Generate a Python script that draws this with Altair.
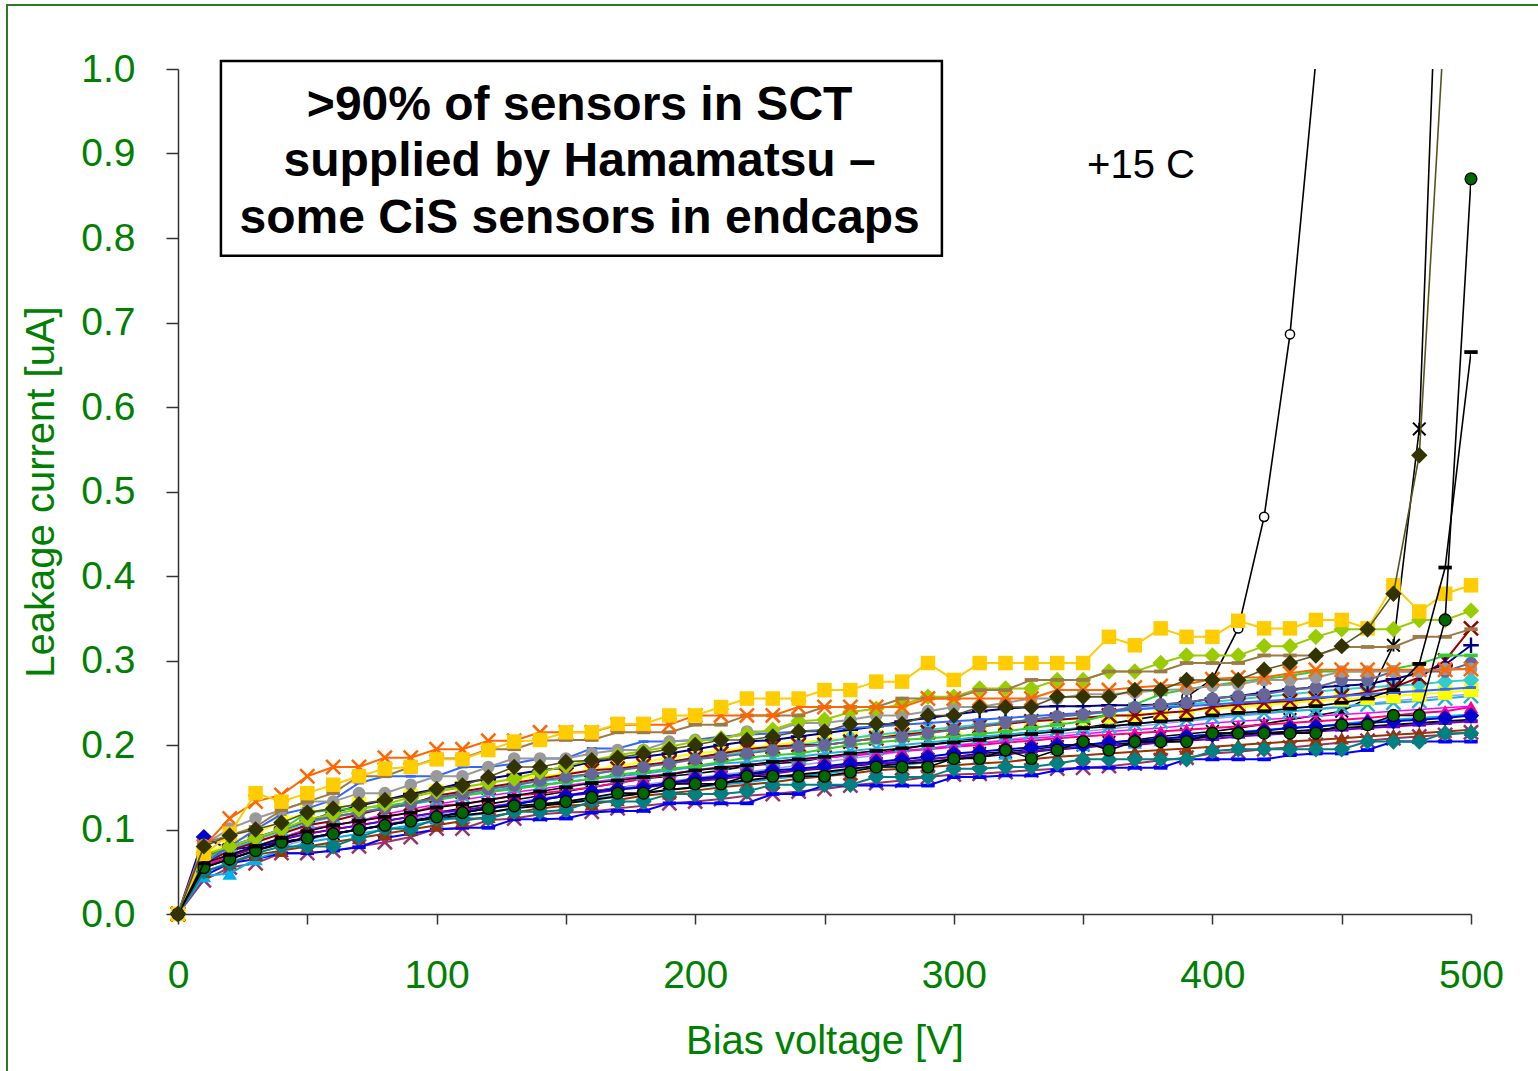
import altair as alt
import pandas as pd

# ---------------- data ----------------
VOLTAGE = [0, 10, 20, 30, 40, 50, 60, 70, 80, 90, 100,
           110, 120, 130, 140, 150, 160, 170, 180, 190, 200,
           210, 220, 230, 240, 250, 260, 270, 280, 290, 300,
           310, 320, 330, 340, 350, 360, 370, 380, 390, 400,
           410, 420, 430, 440, 450, 460, 470, 480, 490, 500]

MAUVE_X = [0, 0.040, 0.055, 0.060, 0.072, 0.072, 0.075, 0.080, 0.085, 0.091, 0.101,
           0.101, 0.111, 0.113, 0.118, 0.120, 0.121, 0.125, 0.128, 0.131, 0.133,
           0.136, 0.140, 0.142, 0.145, 0.148, 0.152, 0.155, 0.158, 0.162, 0.165,
           0.166, 0.168, 0.170, 0.172, 0.173, 0.175, 0.178, 0.182, 0.185, 0.190,
           0.192, 0.195, 0.197, 0.200, 0.203, 0.205, 0.208, 0.210, 0.212, 0.215]
BLUE_DASH = [0, 0.045, 0.060, 0.065, 0.072, 0.072, 0.075, 0.079, 0.090, 0.095, 0.100,
             0.102, 0.102, 0.112, 0.112, 0.113, 0.120, 0.122, 0.122, 0.131, 0.131,
             0.131, 0.131, 0.142, 0.142, 0.152, 0.152, 0.152, 0.152, 0.152, 0.162,
             0.162, 0.164, 0.164, 0.170, 0.173, 0.173, 0.173, 0.173, 0.183, 0.183,
             0.183, 0.183, 0.188, 0.190, 0.190, 0.194, 0.204, 0.204, 0.204, 0.204]
SKY_TRI = [0, 0.045, 0.048, 0.065, 0.075, 0.085, 0.090, 0.095, 0.100, 0.105, 0.110,
           0.115, 0.120, 0.125, 0.130, 0.133, 0.136, 0.140, 0.143, 0.147, 0.150,
           0.153, 0.156, 0.160, 0.163, 0.166, 0.170, 0.173, 0.176, 0.180, 0.183,
           0.186, 0.190, 0.193, 0.196, 0.200, 0.200, 0.203, 0.206, 0.210, 0.213,
           0.215, 0.218, 0.220, 0.222, 0.225, 0.228, 0.230, 0.232, 0.234, 0.236]
BROWN_TRI = [0, 0.050, 0.060, 0.070, 0.075, 0.080, 0.085, 0.090, 0.095, 0.100, 0.105,
             0.110, 0.115, 0.120, 0.125, 0.128, 0.130, 0.135, 0.140, 0.143, 0.146,
             0.150, 0.153, 0.156, 0.160, 0.163, 0.166, 0.170, 0.172, 0.174, 0.176,
             0.178, 0.180, 0.183, 0.186, 0.188, 0.190, 0.192, 0.194, 0.196, 0.198,
             0.200, 0.202, 0.204, 0.206, 0.208, 0.210, 0.212, 0.214, 0.216, 0.218]
LAVENDER = [0, 0.050, 0.062, 0.072, 0.080, 0.088, 0.094, 0.100, 0.106, 0.112, 0.118,
            0.122, 0.127, 0.132, 0.137, 0.141, 0.145, 0.149, 0.153, 0.157, 0.161,
            0.165, 0.168, 0.172, 0.176, 0.180, 0.184, 0.188, 0.192, 0.196, 0.200,
            0.203, 0.206, 0.210, 0.213, 0.216, 0.219, 0.222, 0.225, 0.228, 0.231,
            0.234, 0.237, 0.240, 0.243, 0.246, 0.249, 0.252, 0.255, 0.258, 0.260]
BLACK_LINE = [0, 0.055, 0.065, 0.075, 0.083, 0.090, 0.095, 0.100, 0.105, 0.110, 0.113,
              0.117, 0.120, 0.125, 0.128, 0.131, 0.135, 0.139, 0.143, 0.147, 0.150,
              0.155, 0.158, 0.162, 0.165, 0.168, 0.172, 0.175, 0.178, 0.180, 0.183,
              0.186, 0.189, 0.192, 0.195, 0.197, 0.200, 0.202, 0.205, 0.207, 0.210,
              0.212, 0.214, 0.216, 0.218, 0.220, 0.222, 0.224, 0.226, 0.228, 0.230]
PURPLE_DASH = [0, 0.058, 0.068, 0.078, 0.088, 0.095, 0.100, 0.105, 0.110, 0.115, 0.120,
               0.123, 0.127, 0.130, 0.135, 0.140, 0.143, 0.147, 0.150, 0.153, 0.157,
               0.160, 0.163, 0.166, 0.170, 0.173, 0.176, 0.178, 0.180, 0.183, 0.186,
               0.188, 0.190, 0.193, 0.195, 0.198, 0.200, 0.200, 0.203, 0.205, 0.207,
               0.210, 0.212, 0.214, 0.216, 0.218, 0.220, 0.222, 0.224, 0.226, 0.228]
PINK_TRI = [0, 0.055, 0.070, 0.080, 0.090, 0.100, 0.105, 0.110, 0.115, 0.120, 0.128,
            0.130, 0.135, 0.140, 0.143, 0.146, 0.150, 0.155, 0.160, 0.165, 0.170,
            0.174, 0.176, 0.180, 0.183, 0.185, 0.188, 0.190, 0.193, 0.195, 0.198,
            0.200, 0.203, 0.205, 0.208, 0.210, 0.212, 0.214, 0.216, 0.218, 0.220,
            0.222, 0.224, 0.226, 0.228, 0.230, 0.232, 0.235, 0.238, 0.240, 0.245]
MAGENTA = [0, 0.058, 0.070, 0.080, 0.090, 0.100, 0.105, 0.110, 0.118, 0.124, 0.130,
           0.135, 0.140, 0.144, 0.148, 0.152, 0.156, 0.160, 0.163, 0.166, 0.170,
           0.173, 0.176, 0.179, 0.182, 0.185, 0.188, 0.190, 0.193, 0.196, 0.199,
           0.202, 0.205, 0.208, 0.210, 0.213, 0.216, 0.218, 0.220, 0.223, 0.226,
           0.228, 0.230, 0.232, 0.234, 0.236, 0.238, 0.240, 0.242, 0.244, 0.246]
BLUE_DIAMOND = [0, 0.091, 0.076, 0.080, 0.085, 0.090, 0.095, 0.100, 0.105, 0.110, 0.115,
                0.120, 0.125, 0.130, 0.135, 0.140, 0.145, 0.148, 0.150, 0.155, 0.160,
                0.163, 0.166, 0.170, 0.172, 0.175, 0.178, 0.180, 0.183, 0.186, 0.190,
                0.192, 0.195, 0.197, 0.200, 0.200, 0.203, 0.205, 0.207, 0.210, 0.212,
                0.215, 0.217, 0.220, 0.222, 0.224, 0.226, 0.228, 0.230, 0.232, 0.235]
CYAN_X = [0, 0.060, 0.075, 0.090, 0.100, 0.110, 0.115, 0.120, 0.125, 0.130, 0.135,
          0.140, 0.145, 0.150, 0.153, 0.156, 0.160, 0.163, 0.166, 0.170, 0.174,
          0.178, 0.180, 0.183, 0.186, 0.190, 0.193, 0.196, 0.200, 0.203, 0.206,
          0.210, 0.212, 0.215, 0.218, 0.220, 0.222, 0.225, 0.228, 0.230, 0.233,
          0.236, 0.238, 0.240, 0.242, 0.245, 0.248, 0.250, 0.252, 0.255, 0.258]
YELLOW_SQ = [0, 0.070, 0.085, 0.095, 0.110, 0.120, 0.125, 0.130, 0.135, 0.140, 0.145,
             0.150, 0.155, 0.160, 0.163, 0.166, 0.170, 0.175, 0.180, 0.185, 0.190,
             0.193, 0.196, 0.200, 0.203, 0.206, 0.208, 0.210, 0.213, 0.216, 0.220,
             0.222, 0.225, 0.228, 0.230, 0.232, 0.234, 0.236, 0.238, 0.240, 0.243,
             0.245, 0.247, 0.250, 0.252, 0.254, 0.256, 0.258, 0.260, 0.262, 0.265]
TURQ_DIAMOND = [0, 0.062, 0.075, 0.088, 0.098, 0.108, 0.115, 0.120, 0.126, 0.132, 0.138,
                0.143, 0.148, 0.153, 0.157, 0.160, 0.165, 0.170, 0.175, 0.180, 0.184,
                0.188, 0.192, 0.196, 0.200, 0.204, 0.208, 0.212, 0.215, 0.218, 0.221,
                0.224, 0.227, 0.230, 0.233, 0.236, 0.239, 0.242, 0.245, 0.248, 0.251,
                0.254, 0.257, 0.260, 0.263, 0.266, 0.268, 0.270, 0.272, 0.275, 0.277]
DARKRED_X = [0, 0.060, 0.075, 0.085, 0.095, 0.105, 0.110, 0.118, 0.125, 0.130, 0.140,
             0.145, 0.150, 0.155, 0.160, 0.165, 0.170, 0.172, 0.176, 0.180, 0.185,
             0.190, 0.195, 0.198, 0.200, 0.200, 0.204, 0.208, 0.212, 0.215, 0.218,
             0.222, 0.225, 0.228, 0.230, 0.232, 0.235, 0.235, 0.238, 0.240, 0.245,
             0.248, 0.250, 0.252, 0.255, 0.258, 0.262, 0.268, 0.280, 0.300, 0.338]
NAVY_PLUS = [0, 0.065, 0.080, 0.090, 0.100, 0.110, 0.120, 0.128, 0.135, 0.142, 0.148,
             0.155, 0.160, 0.165, 0.170, 0.173, 0.180, 0.184, 0.186, 0.190, 0.195,
             0.200, 0.204, 0.206, 0.210, 0.214, 0.218, 0.222, 0.228, 0.232, 0.236,
             0.240, 0.243, 0.245, 0.246, 0.246, 0.247, 0.247, 0.248, 0.250, 0.255,
             0.258, 0.262, 0.266, 0.268, 0.270, 0.272, 0.278, 0.285, 0.295, 0.318]
GREEN_DASH = [0, 0.065, 0.080, 0.090, 0.100, 0.120, 0.123, 0.125, 0.128, 0.132, 0.136,
              0.140, 0.144, 0.148, 0.152, 0.156, 0.160, 0.165, 0.168, 0.172, 0.175,
              0.180, 0.185, 0.188, 0.190, 0.195, 0.200, 0.203, 0.206, 0.208, 0.210,
              0.213, 0.216, 0.220, 0.224, 0.228, 0.236, 0.248, 0.260, 0.266, 0.270,
              0.275, 0.278, 0.282, 0.287, 0.287, 0.287, 0.290, 0.296, 0.306, 0.306]
LIGHTBLUE_DASH = [0, 0.060, 0.080, 0.100, 0.118, 0.125, 0.135, 0.155, 0.163, 0.163, 0.163,
                  0.174, 0.174, 0.178, 0.184, 0.184, 0.196, 0.196, 0.204, 0.204, 0.206,
                  0.210, 0.212, 0.214, 0.216, 0.218, 0.220, 0.222, 0.224, 0.226, 0.228,
                  0.230, 0.232, 0.234, 0.236, 0.238, 0.240, 0.242, 0.244, 0.246, 0.248,
                  0.250, 0.252, 0.254, 0.256, 0.258, 0.260, 0.262, 0.264, 0.266, 0.268]
SLATE_CIRCLE = [0, 0.068, 0.080, 0.090, 0.100, 0.110, 0.115, 0.120, 0.125, 0.130, 0.138,
                0.142, 0.148, 0.152, 0.158, 0.162, 0.166, 0.170, 0.174, 0.178, 0.183,
                0.186, 0.190, 0.194, 0.198, 0.200, 0.204, 0.208, 0.210, 0.214, 0.218,
                0.222, 0.226, 0.230, 0.234, 0.236, 0.240, 0.245, 0.248, 0.250, 0.255,
                0.258, 0.260, 0.265, 0.268, 0.277, 0.277, 0.287, 0.287, 0.287, 0.297]
GRAY_CIRCLE = [0, 0.082, 0.101, 0.113, 0.123, 0.133, 0.133, 0.143, 0.143, 0.153, 0.163,
               0.163, 0.174, 0.184, 0.184, 0.184, 0.190, 0.194, 0.194, 0.204, 0.206,
               0.206, 0.216, 0.216, 0.226, 0.226, 0.230, 0.235, 0.235, 0.240, 0.245,
               0.245, 0.250, 0.255, 0.255, 0.260, 0.260, 0.262, 0.265, 0.266, 0.270,
               0.272, 0.277, 0.277, 0.280, 0.287, 0.287, 0.287, 0.287, 0.290, 0.290]
LIME_DIAMOND = [0, 0.070, 0.080, 0.090, 0.100, 0.112, 0.118, 0.124, 0.130, 0.138, 0.145,
                0.150, 0.155, 0.160, 0.168, 0.175, 0.182, 0.188, 0.193, 0.198, 0.204,
                0.208, 0.213, 0.218, 0.228, 0.230, 0.239, 0.243, 0.248, 0.257, 0.257,
                0.267, 0.267, 0.267, 0.277, 0.277, 0.287, 0.287, 0.297, 0.306, 0.306,
                0.306, 0.317, 0.317, 0.328, 0.337, 0.337, 0.337, 0.348, 0.348, 0.359]
TAN_DASH = [0, 0.084, 0.093, 0.103, 0.123, 0.133, 0.143, 0.163, 0.163, 0.174, 0.184,
            0.184, 0.195, 0.195, 0.205, 0.206, 0.206, 0.215, 0.215, 0.215, 0.224,
            0.224, 0.235, 0.235, 0.235, 0.245, 0.245, 0.245, 0.255, 0.255, 0.255,
            0.265, 0.265, 0.277, 0.277, 0.277, 0.287, 0.287, 0.287, 0.297, 0.297,
            0.297, 0.306, 0.306, 0.306, 0.316, 0.316, 0.316, 0.328, 0.328, 0.337]
ORANGE_X = [0, 0.080, 0.113, 0.133, 0.141, 0.163, 0.174, 0.174, 0.185, 0.185, 0.195,
            0.195, 0.205, 0.205, 0.215, 0.215, 0.215, 0.224, 0.224, 0.224, 0.235,
            0.235, 0.235, 0.235, 0.245, 0.245, 0.245, 0.245, 0.245, 0.255, 0.255,
            0.255, 0.255, 0.255, 0.265, 0.265, 0.265, 0.268, 0.270, 0.272, 0.278,
            0.280, 0.280, 0.285, 0.289, 0.289, 0.289, 0.289, 0.289, 0.289, 0.290]
GOLD_SQ = [0, 0.070, 0.095, 0.143, 0.133, 0.143, 0.153, 0.163, 0.172, 0.174, 0.183,
           0.183, 0.194, 0.204, 0.206, 0.215, 0.215, 0.225, 0.225, 0.235, 0.235,
           0.245, 0.255, 0.255, 0.255, 0.265, 0.265, 0.275, 0.275, 0.297, 0.277,
           0.297, 0.297, 0.297, 0.297, 0.297, 0.328, 0.318, 0.338, 0.328, 0.328,
           0.347, 0.338, 0.338, 0.348, 0.348, 0.338, 0.389, 0.358, 0.379, 0.389]
TEAL_DIAMOND = [0, 0.050, 0.060, 0.072, 0.080, 0.080, 0.080, 0.091, 0.101, 0.101, 0.113,
                0.113, 0.113, 0.121, 0.121, 0.123, 0.133, 0.133, 0.133, 0.142, 0.142,
                0.142, 0.145, 0.153, 0.153, 0.153, 0.153, 0.162, 0.162, 0.162, 0.172,
                0.172, 0.174, 0.174, 0.178, 0.183, 0.183, 0.183, 0.183, 0.183, 0.193,
                0.195, 0.195, 0.195, 0.195, 0.195, 0.204, 0.204, 0.204, 0.214, 0.214]
GREEN_CIRCLE_BD = [0, 0.055, 0.065, 0.075, 0.085, 0.090, 0.095, 0.100, 0.105, 0.110, 0.115,
                   0.120, 0.125, 0.128, 0.130, 0.133, 0.138, 0.143, 0.143, 0.154, 0.154,
                   0.154, 0.163, 0.163, 0.163, 0.163, 0.168, 0.174, 0.174, 0.174, 0.184,
                   0.184, 0.194, 0.184, 0.194, 0.204, 0.194, 0.204, 0.204, 0.204, 0.214,
                   0.214, 0.214, 0.214, 0.214, 0.224, 0.224, 0.235, 0.235, 0.348, 0.870]
BLACK_DASH_BD = [0, 0.060, 0.070, 0.080, 0.090, 0.098, 0.105, 0.110, 0.115, 0.120, 0.126,
                 0.130, 0.135, 0.140, 0.145, 0.150, 0.155, 0.158, 0.162, 0.165, 0.170,
                 0.173, 0.176, 0.180, 0.183, 0.186, 0.190, 0.193, 0.196, 0.200, 0.203,
                 0.206, 0.210, 0.213, 0.216, 0.220, 0.222, 0.225, 0.228, 0.230, 0.235,
                 0.238, 0.240, 0.243, 0.246, 0.250, 0.255, 0.265, 0.296, 0.410, 0.665]
STAR_BD = [0, 0.055, 0.065, 0.075, 0.085, 0.090, 0.095, 0.100, 0.105, 0.110, 0.115,
           0.120, 0.125, 0.130, 0.135, 0.140, 0.145, 0.150, 0.152, 0.155, 0.158,
           0.162, 0.165, 0.168, 0.170, 0.172, 0.175, 0.178, 0.180, 0.183, 0.186,
           0.190, 0.192, 0.195, 0.198, 0.200, 0.203, 0.206, 0.210, 0.213, 0.216,
           0.220, 0.225, 0.230, 0.235, 0.240, 0.255, 0.318, 0.574, 1.400, 2.000]
OLIVE_DIAMOND_BD = [0, 0.080, 0.093, 0.100, 0.108, 0.120, 0.125, 0.130, 0.135, 0.140, 0.148,
                    0.152, 0.162, 0.174, 0.174, 0.180, 0.182, 0.185, 0.190, 0.195, 0.200,
                    0.206, 0.206, 0.210, 0.216, 0.216, 0.225, 0.225, 0.225, 0.235, 0.235,
                    0.245, 0.245, 0.245, 0.257, 0.257, 0.257, 0.265, 0.265, 0.277, 0.277,
                    0.277, 0.289, 0.297, 0.306, 0.317, 0.337, 0.379, 0.543, 1.070, 1.600]
WHITE_CIRCLE_BD = [0, 0.060, 0.070, 0.080, 0.088, 0.095, 0.100, 0.105, 0.110, 0.115, 0.120,
                   0.125, 0.130, 0.135, 0.140, 0.145, 0.150, 0.155, 0.160, 0.163, 0.166,
                   0.170, 0.175, 0.178, 0.180, 0.185, 0.188, 0.190, 0.195, 0.200, 0.205,
                   0.208, 0.212, 0.215, 0.218, 0.220, 0.225, 0.230, 0.235, 0.257, 0.278,
                   0.338, 0.470, 0.686, 1.010, 1.400, 1.800, 2.200, 2.600, 3.000, 3.400]

BOX_LINES = [">90% of sensors in SCT", "supplied by Hamamatsu \u2013", "some CiS sensors in endcaps"]
BOX_LINE_Y = [0.9396, 0.8734, 0.8059]
BOX_CENTER_V = 155.3
BOX_V = [16.6, 295.4]
BOX_I = [0.779, 1.0095]
TEMP_LABEL = "+15 C"
TEMP_POS = [372.4, 0.871]

X_TICKS = [0, 50, 100, 150, 200, 250, 300, 350, 400, 450, 500]
Y_TICKS = [0.0, 0.1, 0.2, 0.3, 0.4, 0.5, 0.6, 0.7, 0.8, 0.9, 1.0]

# ---------------- styles ----------------
XPATH = "M-1,-1L1,1M-1,1L1,-1"
PLUSPATH = "M-1,0L1,0M0,-1L0,1"
DASHPATH = "M-1,-0.28L1,-0.28L1,0.28L-1,0.28Z"
STARPATH = "M-1,-1L1,1M-1,1L1,-1M0,-1L0,1"


def marker(kind, color):
    if kind == "square":
        return dict(shape="square", filled=True, color=color, size=210)
    if kind == "diamond":
        return dict(shape="diamond", filled=True, color=color, size=270)
    if kind == "circle":
        return dict(shape="circle", filled=True, color=color, size=160)
    if kind == "triangle":
        return dict(shape="triangle-up", filled=True, color=color, size=210)
    if kind == "x":
        return dict(shape=XPATH, filled=False, color=color, size=200, strokeWidth=2.5)
    if kind == "plus":
        return dict(shape=PLUSPATH, filled=False, color=color, size=240, strokeWidth=2.4)
    if kind == "dash":
        return dict(shape=DASHPATH, filled=True, color=color, size=180)
    if kind == "smalldash":
        return dict(shape=DASHPATH, filled=True, color=color, size=100)
    if kind == "star":
        return dict(shape=STARPATH, filled=False, color=color, size=160, strokeWidth=2)
    if kind == "wcircle":
        return dict(shape="circle", filled=True, fill="white", stroke="black", strokeWidth=1.5, size=85)
    if kind == "gcircle":
        return dict(shape="circle", filled=True, fill="#006600", stroke="black", strokeWidth=1.3, size=140)
    return None


# name, values, line colour, line width, marker kind, marker colour
SERIES = [
    ("bd_white", WHITE_CIRCLE_BD, "#000000", 1.6, "wcircle", None),
    ("bd_star", STAR_BD, "#000000", 1.6, "star", "#000000"),
    ("mauve", MAUVE_X, "#993366", 2, "x", "#993366"),
    ("bluedash", BLUE_DASH, "#0000FF", 2, "dash", "#0000FF"),
    ("sky", SKY_TRI, "#00B0F0", 2, "triangle", "#00B0F0"),
    ("brown", BROWN_TRI, "#993300", 2, "triangle", "#993300"),
    ("lavender", LAVENDER, "#9999FF", 1.5, None, None),
    ("black", BLACK_LINE, "#000000", 2, "smalldash", "#000000"),
    ("purple", PURPLE_DASH, "#6600CC", 2, "dash", "#6600CC"),
    ("pink", PINK_TRI, "#FF0080", 2, "triangle", "#FF0080"),
    ("magenta", MAGENTA, "#FF00FF", 1.5, None, None),
    ("bdiam", BLUE_DIAMOND, "#0000CC", 2, "diamond", "#0000CC"),
    ("cyan", CYAN_X, "#1FB0E0", 2, "x", "#1FB0E0"),
    ("yellow", YELLOW_SQ, "#FFFF00", 2, "square", "#FFFF00"),
    ("turq", TURQ_DIAMOND, "#33CCCC", 2, "diamond", "#33CCCC"),
    ("darkred", DARKRED_X, "#990000", 2, "x", "#990000"),
    ("navy", NAVY_PLUS, "#000080", 2, "plus", "#000080"),
    ("green", GREEN_DASH, "#33CC33", 2, "dash", "#33CC33"),
    ("lblue", LIGHTBLUE_DASH, "#3366FF", 2, "smalldash", "#3366FF"),
    ("slate", SLATE_CIRCLE, "#666699", 2, "circle", "#666699"),
    ("gray", GRAY_CIRCLE, "#999999", 2, "circle", "#999999"),
    ("lime", LIME_DIAMOND, "#99CC00", 2, "diamond", "#99CC00"),
    ("tan", TAN_DASH, "#9C7A45", 2, "dash", "#9C7A45"),
    ("orange", ORANGE_X, "#FF6600", 2, "x", "#FF6600"),
    ("gold", GOLD_SQ, "#FFCC00", 2, "square", "#FFCC00"),
    ("teal", TEAL_DIAMOND, "#008080", 2, "diamond", "#008080"),
    ("bd_green", GREEN_CIRCLE_BD, "#000000", 1.6, "gcircle", None),
    ("bd_dash", BLACK_DASH_BD, "#000000", 1.6, "dash", "#000000"),
    ("bd_olive", OLIVE_DIAMOND_BD, "#555522", 1.6, "diamond", "#333300"),
]

rows = []
for name, vals, *_ in SERIES:
    assert len(vals) == len(VOLTAGE), name
    for v, i in zip(VOLTAGE, vals):
        rows.append({"s": name, "V": v, "I": i})
df = pd.DataFrame(rows)

GREEN = "#008000"
FONT = "Liberation Sans"

XS = alt.Scale(domain=[0, 500], nice=False, zero=False)
YS = alt.Scale(domain=[0, 1.0], nice=False)
XAX = alt.Axis(values=X_TICKS, title="Bias voltage [V]",
               labelExpr="datum.value % 100 === 0 ? datum.label : ''",
               format="d", tickSize=10, labelPadding=32, labelFlush=False,
               labelOverlap=False, titleY=139, titleBaseline="alphabetic")
YAX = alt.Axis(values=Y_TICKS, title="Leakage current [uA]", format=".1f",
               tickSize=12, labelPadding=31, labelFlush=False, labelOverlap=False,
               titleX=-125, titleY=422.5, titleAngle=270, titleAlign="center",
               titleBaseline="alphabetic")

base = alt.Chart(df).encode(
    x=alt.X("V:Q", scale=XS, axis=XAX),
    y=alt.Y("I:Q", scale=YS, axis=YAX),
)

layers = []
frame = alt.Chart(pd.DataFrame({"a": [0]})).mark_rect(
    filled=False, stroke="#2A7A2A", strokeWidth=2, clip=False
).encode(x=alt.value(-171), x2=alt.value(1420), y=alt.value(-64), y2=alt.value(1100))
layers.append(frame)

for name, vals, lc, lw, mk, mc in SERIES:
    sub = base.transform_filter(alt.datum.s == name)
    layers.append(sub.mark_line(color=lc, strokeWidth=lw, clip=True))
    props = marker(mk, mc)
    if props is not None:
        layers.append(sub.transform_filter(alt.datum.I <= 1.0).mark_point(opacity=1, clip=False, **props))

box = alt.Chart(pd.DataFrame({"x1": [BOX_V[0]], "x2": [BOX_V[1]],
                              "y1": [BOX_I[0]], "y2": [BOX_I[1]]})).mark_rect(
    fill="white", stroke="black", strokeWidth=2.5, clip=False
).encode(x=alt.X("x1:Q", scale=XS, axis=XAX), x2="x2:Q",
         y=alt.Y("y1:Q", scale=YS, axis=YAX), y2="y2:Q")
layers.append(box)

box_text = alt.Chart(pd.DataFrame({"t": BOX_LINES, "x": [BOX_CENTER_V] * 3, "y": BOX_LINE_Y})).mark_text(
    font=FONT, fontSize=48, fontWeight="bold", color="black", align="center",
    baseline="alphabetic", clip=False
).encode(x=alt.X("x:Q", scale=XS, axis=XAX), y=alt.Y("y:Q", scale=YS, axis=YAX), text="t:N")
layers.append(box_text)

temp = alt.Chart(pd.DataFrame({"t": [TEMP_LABEL], "x": [TEMP_POS[0]], "y": [TEMP_POS[1]]})).mark_text(
    font=FONT, fontSize=40, color="black", align="center", baseline="alphabetic"
).encode(x=alt.X("x:Q", scale=XS, axis=XAX), y=alt.Y("y:Q", scale=YS, axis=YAX), text="t:N")
layers.append(temp)

chart = alt.layer(*layers).properties(
    width=1293, height=845,
    autosize=alt.AutoSizeParams(type="none"),
    padding={"left": 178, "top": 69, "right": 67, "bottom": 157},
    background="white",
).configure_view(stroke=None).configure_axis(
    grid=False, domainColor="#333333", tickColor="#333333", domainWidth=1.5,
    tickWidth=1.5, labelFont=FONT, titleFont=FONT, labelColor=GREEN,
    titleColor=GREEN, labelFontSize=39, titleFontSize=40, titleFontWeight="normal",
)

chart.save("out.html", embed_options={"renderer": "svg", "actions": False})
